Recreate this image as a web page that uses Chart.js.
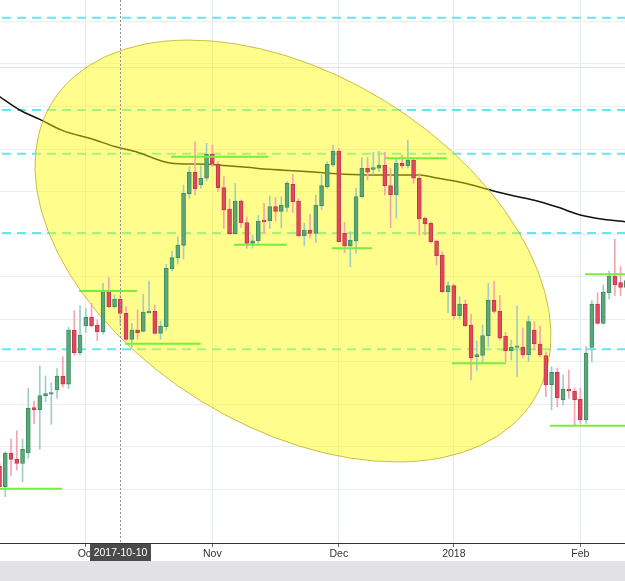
<!DOCTYPE html>
<html><head><meta charset="utf-8">
<script src="https://cdn.jsdelivr.net/npm/chart.js@4.4.1/dist/chart.umd.min.js"></script>
<style>
html,body{margin:0;padding:0;background:#e2e2e5;width:625px;height:581px;overflow:hidden}
#c{display:block;background:#fff}
</style></head><body>
<canvas id="c" width="625" height="561"></canvas>
<script>
// ---- data (daily trading sessions) ----
const dates = [
'2017-09-11','2017-09-12','2017-09-13','2017-09-14','2017-09-15','2017-09-18','2017-09-19','2017-09-20','2017-09-21','2017-09-22',
'2017-09-25','2017-09-26','2017-09-27','2017-09-28','2017-09-29',
'2017-10-02','2017-10-03','2017-10-04','2017-10-05','2017-10-06','2017-10-09','2017-10-10','2017-10-11','2017-10-12','2017-10-13',
'2017-10-16','2017-10-17','2017-10-18','2017-10-19','2017-10-20','2017-10-23','2017-10-24','2017-10-25','2017-10-26','2017-10-27',
'2017-10-30','2017-10-31',
'2017-11-01','2017-11-02','2017-11-03','2017-11-06','2017-11-07','2017-11-08','2017-11-09','2017-11-10','2017-11-13','2017-11-14',
'2017-11-15','2017-11-16','2017-11-17','2017-11-20','2017-11-21','2017-11-22','2017-11-23','2017-11-24','2017-11-27','2017-11-28',
'2017-11-29','2017-11-30',
'2017-12-01','2017-12-04','2017-12-05','2017-12-06','2017-12-07','2017-12-08','2017-12-11','2017-12-12','2017-12-13','2017-12-14',
'2017-12-15','2017-12-18','2017-12-19','2017-12-20','2017-12-21','2017-12-22','2017-12-26','2017-12-27','2017-12-28','2017-12-29',
'2018-01-02','2018-01-03','2018-01-04','2018-01-05','2018-01-08','2018-01-09','2018-01-10','2018-01-11','2018-01-12','2018-01-15',
'2018-01-16','2018-01-17','2018-01-18','2018-01-19','2018-01-22','2018-01-23','2018-01-24','2018-01-25','2018-01-26','2018-01-29',
'2018-01-30','2018-01-31',
'2018-02-01','2018-02-02','2018-02-05','2018-02-06','2018-02-07','2018-02-08','2018-02-09','2018-02-12','2018-02-13'
];
const openP = [115.52,110.66,118.5,117.09,116.15,118.65,129.22,128.75,132.04,132.37,133.38,136.67,134.72,147.48,142.15,
148.42,150.53,148.65,147.08,156.48,152.96,154.69,151.4,145.29,147.48,147.17,151.55,151.87,146.7,148.26,161.81,164.4,167.34,179.51,184.54,181.55,183.13,
188.77,186.49,180.92,175.91,170.11,177.79,172.74,167.81,168.39,173.09,173.09,176.46,175.33,176.27,181.72,177.79,169.57,170.98,170.2,176.69,181.16,186.25,
189.54,170.2,167.22,168.39,178.81,185.48,185.24,185.48,186.25,181.39,179.2,186.65,186.02,187.43,183.13,173.73,172.55,168.39,165.1,156.48,
157.89,150.84,153.59,148.65,141.21,141.53,146.14,154.53,151.94,146.07,142.62,143.41,143.48,141.6,147.48,144.19,141.49,134.55,137.54,131.03,133.61,133.14,
131.26,126.33,143.37,153.59,149.05,156.25,160.17,158.6,157.51];
const highP = [116.46,118.88,121.86,123.82,121.86,133.78,130.79,139.02,136.67,135.1,138.39,141.21,148.11,152.02,153.19,
152.58,153.75,149.83,158.45,159.86,155.7,155.7,152.96,149.05,152.18,155.87,158.99,153.35,149.59,162.92,166.04,169.41,181.55,185.86,191.73,186.09,191.35,
190.95,187.03,183.51,178.26,181.95,178.03,174.03,169.73,174.39,177.25,178.97,178.57,178.81,182.33,184.07,178.43,172.55,174.69,179.2,183.9,187.03,190.95,
190.18,172.74,170.58,180.78,187.97,187.97,189.24,189.38,189.24,185.48,187.83,188.6,192.13,187.9,184.3,174.03,172.86,168.63,165.88,158.83,
158.29,155.31,154.53,151.17,144.89,148.65,158.45,158.99,155.59,146.94,145.13,153.12,147.95,150.77,149.43,148.42,142.31,138.86,138.55,136.9,138.08,133.85,
133.78,143.56,154.37,156.17,158.05,161.34,168.79,162.36,160.17];
const lowP = [109.88,108.31,113.24,114.58,111.83,117.33,125.55,119.44,130.63,125.32,131.43,134.01,133.78,141.6,141.6,
146.85,148.18,144.97,146.47,152.72,152.58,148.65,145.13,143.41,145.29,147.01,151.4,146.54,145.29,147.41,161.34,162.99,164.16,178.43,179.2,180.78,182.49,
185.86,179.98,171.38,169.92,170.04,171.57,166.68,166.75,167.81,170.2,171.38,173.09,171.45,175.28,175.09,169.45,167.29,169.1,168.04,175.68,180.78,185.86,
168.16,165.65,162.36,165.5,178.5,182.73,184.07,184.68,179.2,171.52,173.73,185.48,185.55,181.95,169.8,169.8,167.93,162.75,156.29,151.55,
149.95,149.99,148.26,135.73,137.96,139.72,143.48,151.4,145.13,140.03,140.43,136.43,140.9,140.03,142.78,141.13,131.81,128.68,129.46,129.85,131.43,125.15,
125.55,125.55,139.96,148.89,148.89,154.76,155.59,155.59,156.41];
const closeP = [110.66,118.5,117.09,116.15,119.44,129.08,128.75,132.04,132.51,132.75,136.67,134.72,147.48,142.15,146.23,
150.53,148.42,147.08,156.48,152.96,154.69,151.4,145.29,147.48,146.85,151.71,151.87,146.7,148.42,161.98,164.47,167.45,179.6,184.54,180.61,183.13,188.77,
186.49,180.92,175.68,170.11,177.79,172.7,167.85,168.44,173.09,172.93,176.46,175.33,176.85,181.95,177.63,169.57,170.98,170.2,176.85,181.39,186.42,189.54,
168.23,167.22,168.63,178.81,185.48,184.54,185.62,186.25,181.39,179.2,186.65,186.02,187.43,183.13,173.56,172.39,168.23,164.94,156.48,157.89,
150.84,153.59,148.49,140.9,141.72,146.19,154.53,151.83,145.53,142.62,143.48,143.48,141.6,149.43,144.19,141.6,134.55,137.54,131.5,133.61,133.14,131.03,
126.33,142,153.59,149.05,156.41,160.17,158.05,157.51,159.07];

// moving average, read at sample sessions (x = session number)
const maX = [0,3.5,7,11,16,20,24,29,32,36,39,43,47,51,55,60,65,71,73,76,81,85,89,93,97,101,105,109];
const maY = [202.35,199.18,196.99,194.32,192.41,190.6,189.24,186.91,186.49,186.44,186.14,185.71,185.24,184.92,184.56,184.09,
183.9,183.9,183.9,183.2,181.98,180.5,179.13,177.98,176.38,174.5,173.49,172.91];

// dashed horizontal levels (full width)
const dashedLevels = [220.87, 199.18, 188.91, 170.27, 142.94];
const faintLevels = [209.17];

// short support / resistance segments
const levelPrice = [110.15, 156.64, 144.25, 188.18, 167.52, 166.67, 187.83, 139.65, 124.98, 160.56];
const levelFrom  = [0.08, 13.82, 21.82, 29.82, 40.77, 57.82, 67.03, 78.69, 95.73, 101.82];
const levelTo    = [10.86, 23.9, 34.98, 46.77, 49.94, 64.77, 77.77, 88.03, 108.77, 108.77];

// highlight ellipse: centre and the ends of its two semi-axes (session, price)
const ellipseCenter = {x: 51.03, y: 166.04};
const ellipseMajor  = {x: 92.93, y: 131.14};
const ellipseMinor  = {x: 34.97, y: 130.83};

// x axis ticks
const tickDates  = ['2017-10-02','2017-11-01','2017-12-01','2018-01-02','2018-02-01'];
const tickLabels = ['Oct','Nov','Dec','2018','Feb'];
const crossDate  = '2017-10-10';

const X_MIN = 0.08, X_MAX = 108.77, Y_MIN = 97.42, Y_MAX = 225.03;

// ---- build ----
const UP = 'rgb(92,166,124)', UP_B = 'rgb(62,143,96)', UP_W = 'rgb(160,205,198)';
const DN = 'rgb(224,72,95)', DN_B = 'rgb(196,56,78)', DN_W = 'rgb(243,165,176)';
const isUp = openP.map((o,i) => closeP[i] >= o);
const n = dates.length;
const wickData = dates.map((d,i) => ({x:i, y:[lowP[i], highP[i]]}));
const bodyData = dates.map((d,i) => ({x:i, y:[openP[i], closeP[i]]}));
const tickIdx = tickDates.map(d => dates.indexOf(d));

const datasets = [];
dashedLevels.forEach(v => datasets.push({type:'line', data:[{x:0,y:v},{x:n-1,y:v}], borderColor:'rgb(98,232,240)',
  borderWidth:2, borderDash:[9,6], borderDashOffset:-2.5, pointRadius:0, order:20}));
faintLevels.forEach(v => datasets.push({type:'line', data:[{x:0,y:v},{x:n-1,y:v}], borderColor:'#dce5e5',
  borderWidth:1, pointRadius:0, order:20}));
datasets.push({type:'line', data: maX.map((x,i)=>({x, y:maY[i]})), borderColor:'#111', borderWidth:1.5,
  pointRadius:0, cubicInterpolationMode:'monotone', order:15});
datasets.push({type:'bar', data: wickData, backgroundColor: isUp.map(u => u ? UP_W : DN_W), borderWidth:0,
  barThickness:1, grouped:false, order:6, aboveEllipse:true});
datasets.push({type:'bar', data: bodyData, backgroundColor: isUp.map(u => u ? UP : DN), borderColor: isUp.map(u => u ? UP_B : DN_B),
  borderWidth:1, borderSkipped:false, barThickness:4, minBarLength:1.5, grouped:false, order:5, aboveEllipse:true});
levelPrice.forEach((p,k) => datasets.push({type:'line', data:[{x:levelFrom[k],y:p},{x:levelTo[k],y:p}],
  borderColor:'rgb(122,236,62)', borderWidth:2, pointRadius:0, order:1, aboveEllipse:true}));

function drawEllipse(chart){
  const {ctx, chartArea:a} = chart;
  const sx = chart.scales.x, sy = chart.scales.y;
  const cx = sx.getPixelForValue(ellipseCenter.x), cy = sy.getPixelForValue(ellipseCenter.y);
  const ux = sx.getPixelForValue(ellipseMajor.x)-cx, uy = sy.getPixelForValue(ellipseMajor.y)-cy;
  const vx = sx.getPixelForValue(ellipseMinor.x)-cx, vy = sy.getPixelForValue(ellipseMinor.y)-cy;
  ctx.save();
  ctx.beginPath(); ctx.rect(a.left, a.top, a.width, a.height); ctx.clip();
  ctx.beginPath();
  ctx.save(); ctx.transform(ux, uy, vx, vy, cx, cy); ctx.arc(0,0,1,0,Math.PI*2); ctx.restore();
  ctx.fillStyle = 'rgba(255,250,0,0.45)'; ctx.fill();
  ctx.strokeStyle = 'rgba(190,180,50,0.85)'; ctx.lineWidth = 1; ctx.stroke();
  ctx.restore();
}

const overlay = {
  id:'overlay',
  beforeDatasetsDraw(chart){ chart.$ellDone = false; },
  beforeDatasetDraw(chart, args){
    const ds = chart.data.datasets[args.index];
    if (ds.aboveEllipse && !chart.$ellDone){ drawEllipse(chart); chart.$ellDone = true; }
  },
  afterDraw(chart){
    const {ctx, chartArea:a} = chart;
    const i = dates.indexOf(crossDate);
    const x = Math.round(chart.scales.x.getPixelForValue(i)) + 0.5;
    ctx.save();
    ctx.strokeStyle = '#8f8f8f'; ctx.lineWidth = 1; ctx.setLineDash([2,2]);
    ctx.beginPath(); ctx.moveTo(x, a.top); ctx.lineTo(x, a.bottom); ctx.stroke();
    ctx.setLineDash([]);
    ctx.font = '10.5px "Liberation Sans", Arial, sans-serif';
    const w = ctx.measureText(crossDate).width;
    const top = a.bottom + 1;
    ctx.fillStyle = '#4b4b4b';
    ctx.fillRect(Math.round(x - w/2 - 3.5), top, Math.round(w + 7), chart.height - top);
    ctx.fillStyle = '#fff'; ctx.textAlign = 'center'; ctx.textBaseline = 'middle';
    ctx.fillText(crossDate, x, top + (chart.height - top)/2 + 0.5);
    ctx.restore();
  }
};

new Chart(document.getElementById('c'), {
  type:'bar',
  data:{ datasets },
  options:{
    responsive:false, animation:false, devicePixelRatio:1,
    layout:{ padding:0 },
    plugins:{ legend:{display:false}, tooltip:{enabled:false} },
    scales:{
      x:{ type:'linear', min:X_MIN, max:X_MAX, offset:false,
        grid:{ color:'#e3ebf0', offset:false, drawTicks:true, tickLength:4, tickColor:'#666' },
        border:{ display:true, color:'#333', width:1 },
        ticks:{ autoSkip:false, maxRotation:0, padding:1, color:'#333',
          font:{ family:'"Liberation Sans", Arial, sans-serif', size:10.5 },
          callback:(v,i) => tickLabels[i] },
        afterBuildTicks: s => { s.ticks = tickIdx.map(v => ({value:v})); },
        afterFit: s => { s.height = 18; } },
      y:{ type:'linear', min:Y_MIN, max:Y_MAX,
        grid:{ color:'#eceff1', drawTicks:false },
        border:{ display:false },
        ticks:{ display:false, stepSize:10 },
        afterBuildTicks: s => { s.ticks = s.ticks.filter(t => Math.abs(t.value/10 - Math.round(t.value/10)) < 1e-6); },
        afterFit: s => { s.width = 0; } }
    }
  },
  plugins:[overlay]
});
</script></body></html>
